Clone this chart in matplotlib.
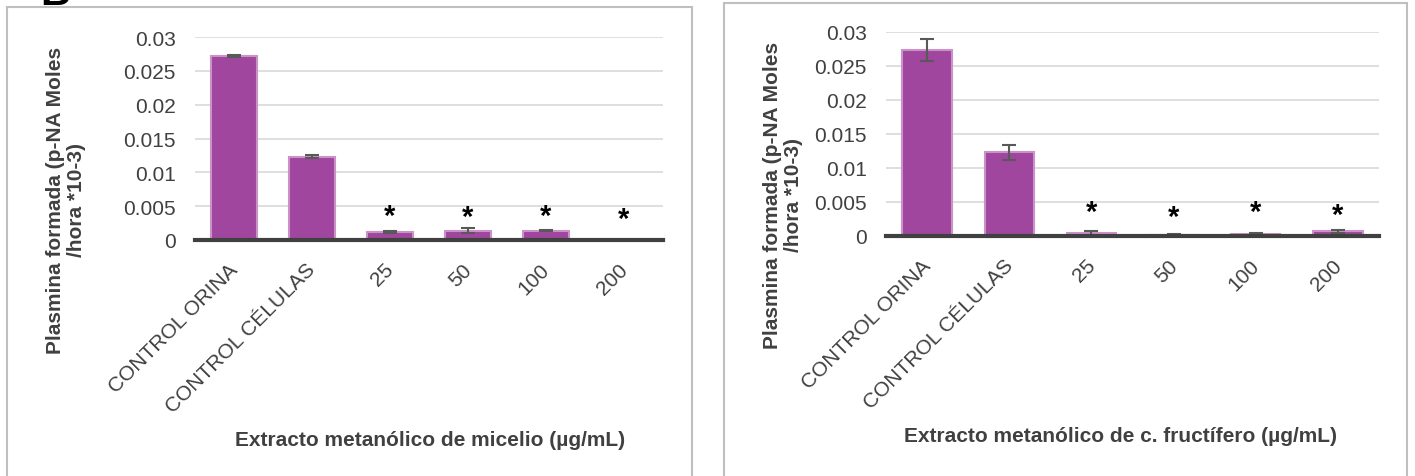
import matplotlib
matplotlib.use("Agg")
import matplotlib.pyplot as plt
import matplotlib.transforms as mtransforms
from matplotlib.patches import Rectangle

plt.rcParams['font.family'] = ['Liberation Sans', 'DejaVu Sans']

categories = ["CONTROL ORINA", "CONTROL CÉLULAS", "25", "50", "100", "200"]

micelio_vals = [0.0272, 0.0123, 0.0012, 0.0014, 0.0014, 0.0]
micelio_err = [0.0001, 0.0002, 0.00015, 0.0004, 0.0001, 0.0]
micelio_star_y = [None, None, 0.0036, 0.0034, 0.0036, 0.0031]

fruct_vals = [0.0273, 0.0123, 0.0005, 0.0001, 0.0003, 0.0007]
fruct_err = [0.0016, 0.0011, 0.0003, 0.0002, 0.0002, 0.0002]
fruct_star_y = [None, None, 0.0035, 0.0028, 0.0035, 0.0031]

yticks = [0, 0.005, 0.01, 0.015, 0.02, 0.025, 0.03]
ytick_labels = ["0", "0.005", "0.01", "0.015", "0.02", "0.025", "0.03"]

ylabel = "Plasmina formada (p-NA Moles\n/hora *10-3)"
xlabel_left = "Extracto metanólico de micelio (µg/mL)"
xlabel_right = "Extracto metanólico de c. fructífero (µg/mL)"

W, H = 1415, 477
fig = plt.figure(figsize=(W / 100, H / 100), dpi=100)

BAR = "#A0469E"
EDGE = "#C993C8"
TXT = "#404040"


def px(x0, y0, x1, y1):
    return [x0 / W, 1 - y1 / H, (x1 - x0) / W, (y1 - y0) / H]


def draw(ax, vals, errs, stars):
    x = list(range(len(categories)))
    ax.bar(x, vals, width=0.6, color=BAR, edgecolor=EDGE, linewidth=1.5, zorder=2)
    ax.errorbar(x, vals, yerr=errs, fmt="none", ecolor="#595959", elinewidth=1.5,
                capsize=5, capthick=1.5, zorder=3)
    for xi, sy in zip(x, stars):
        if sy is not None:
            ax.text(xi, sy, "*", ha="center", va="center", fontsize=21,
                    fontweight="bold", color="black", zorder=4)
    ax.set_xlim(-0.5, len(categories) - 0.5)
    ax.set_ylim(0, 0.03)
    ax.set_yticks(yticks)
    ax.set_yticklabels(ytick_labels)
    ax.grid(axis="y", color="#d9d9d9", linewidth=1.2, zorder=0)
    ax.set_axisbelow(True)
    for s in ["top", "right", "left"]:
        ax.spines[s].set_visible(False)
    ax.spines["bottom"].set_color(TXT)
    ax.spines["bottom"].set_linewidth(3)
    ax.spines["bottom"].set_zorder(5)
    ax.tick_params(axis="y", length=0, labelsize=15, colors=TXT, pad=14)
    ax.tick_params(axis="x", length=0, labelsize=15, colors=TXT, pad=14)
    ax.set_xticks(x)
    ax.set_xticklabels(categories, rotation=45, ha="right", va="top",
                       rotation_mode="anchor", fontsize=15, color=TXT)
    shift = mtransforms.ScaledTranslation(-6 / 100, 0, fig.dpi_scale_trans)
    for lab in ax.get_xticklabels():
        lab.set_transform(lab.get_transform() + shift)


axL = fig.add_axes(px(195, 38, 663, 241))
draw(axL, micelio_vals, micelio_err, micelio_star_y)
axR = fig.add_axes(px(886, 33, 1379, 237))
draw(axR, fruct_vals, fruct_err, fruct_star_y)

# panel borders
for (x0, y0, x1) in [(7, 8, 692), (724, 4, 1407)]:
    fig.add_artist(Rectangle((x0 / W, -0.05), (x1 - x0) / W, 1 - y0 / H + 0.05,
                             transform=fig.transFigure, fill=False,
                             edgecolor="#bfbfbf", linewidth=1.5, zorder=0))

# y labels
fig.text(66 / W, 1 - 200 / H, ylabel, rotation=90, ha="center", va="center",
         fontsize=15, fontweight="bold", color=TXT, linespacing=1.1)
fig.text(783 / W, 1 - 195 / H, ylabel, rotation=90, ha="center", va="center",
         fontsize=15, fontweight="bold", color=TXT, linespacing=1.1)

# x labels
fig.text(430 / W, 1 - 441 / H, xlabel_left, ha="center", va="center",
         fontsize=15, fontweight="bold", color=TXT)
fig.text(1120 / W, 1 - 437 / H, xlabel_right, ha="center", va="center",
         fontsize=15, fontweight="bold", color=TXT)

# panel letter
fig.text(40 / W, 1 - 5 / H, "B", ha="left", va="baseline", fontsize=30,
         fontweight="bold", color="black")

fig.savefig("out.png", dpi=100)
